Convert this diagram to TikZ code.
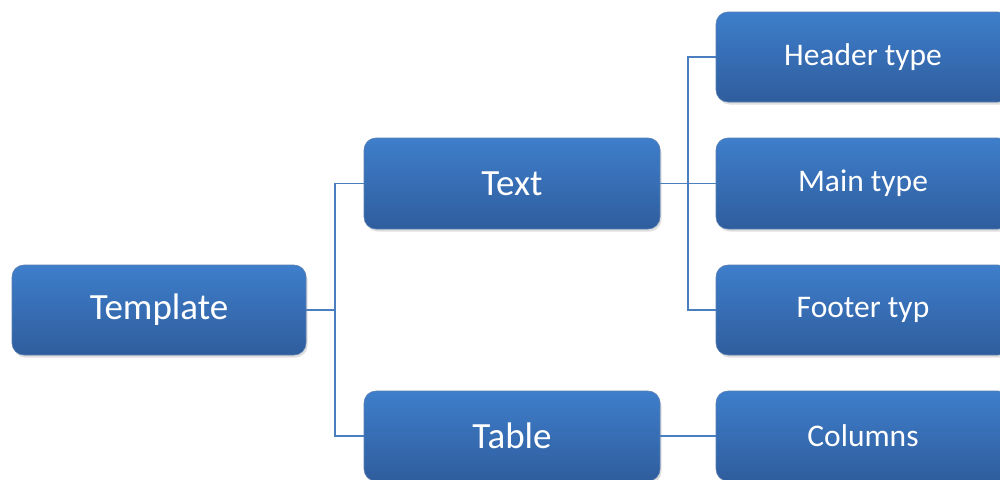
\documentclass[tikz,border=0pt]{standalone}
\usepackage{fontspec}
\setmainfont{Carlito}
\usetikzlibrary{shadows}
\definecolor{boxtop}{HTML}{3E7ECB}
\definecolor{boxbot}{HTML}{2F5D9D}
\definecolor{linkc}{HTML}{4A7EBF}
\tikzset{
  box/.style={rectangle, rounded corners=12pt, top color=boxtop, bottom color=boxbot,
    draw=boxbot!80!white, line width=0.6pt, text=white, minimum width=294pt, minimum height=90pt,
    inner sep=0pt, drop shadow={opacity=0.25, shadow xshift=1.5pt, shadow yshift=-2.5pt}},
  big/.style={font=\fontsize{37}{40}\selectfont},
  small/.style={font=\fontsize{31.5}{34}\selectfont},
  link/.style={draw=linkc, line width=1.6pt},
}
\begin{document}
\begin{tikzpicture}[x=1pt,y=-1pt]
\useasboundingbox (0,0) rectangle (1000,479);
\clip (0,0) rectangle (1000,479);
\node[box,big] (tmpl) at (159,310) {Template};
\node[box,big,minimum width=296pt,minimum height=91pt] (text) at (512,183.5) {Text};
\node[box,big,minimum width=296pt,minimum height=90pt] (table) at (512,436) {Table};
\node[box,small] (header) at (863,57) {Header type};
\node[box,small,minimum height=91pt] (main) at (863,183.5) {Main type};
\node[box,small] (footer) at (863,310) {Footer typ};
\node[box,small] (columns) at (863,436) {Columns};
\coordinate (j1) at (335,0);
\coordinate (j2) at (688,0);
\draw[link] (tmpl.east) -| (j1 |- text.west) -- (text.west);
\draw[link] (tmpl.east) -| (j1 |- table.west) -- (table.west);
\draw[link] (text.east) -| (j2 |- header.west) -- (header.west);
\draw[link] (text.east) -- (main.west);
\draw[link] (text.east) -| (j2 |- footer.west) -- (footer.west);
\draw[link] (table.east) -- (columns.west);
\end{tikzpicture}
\end{document}
